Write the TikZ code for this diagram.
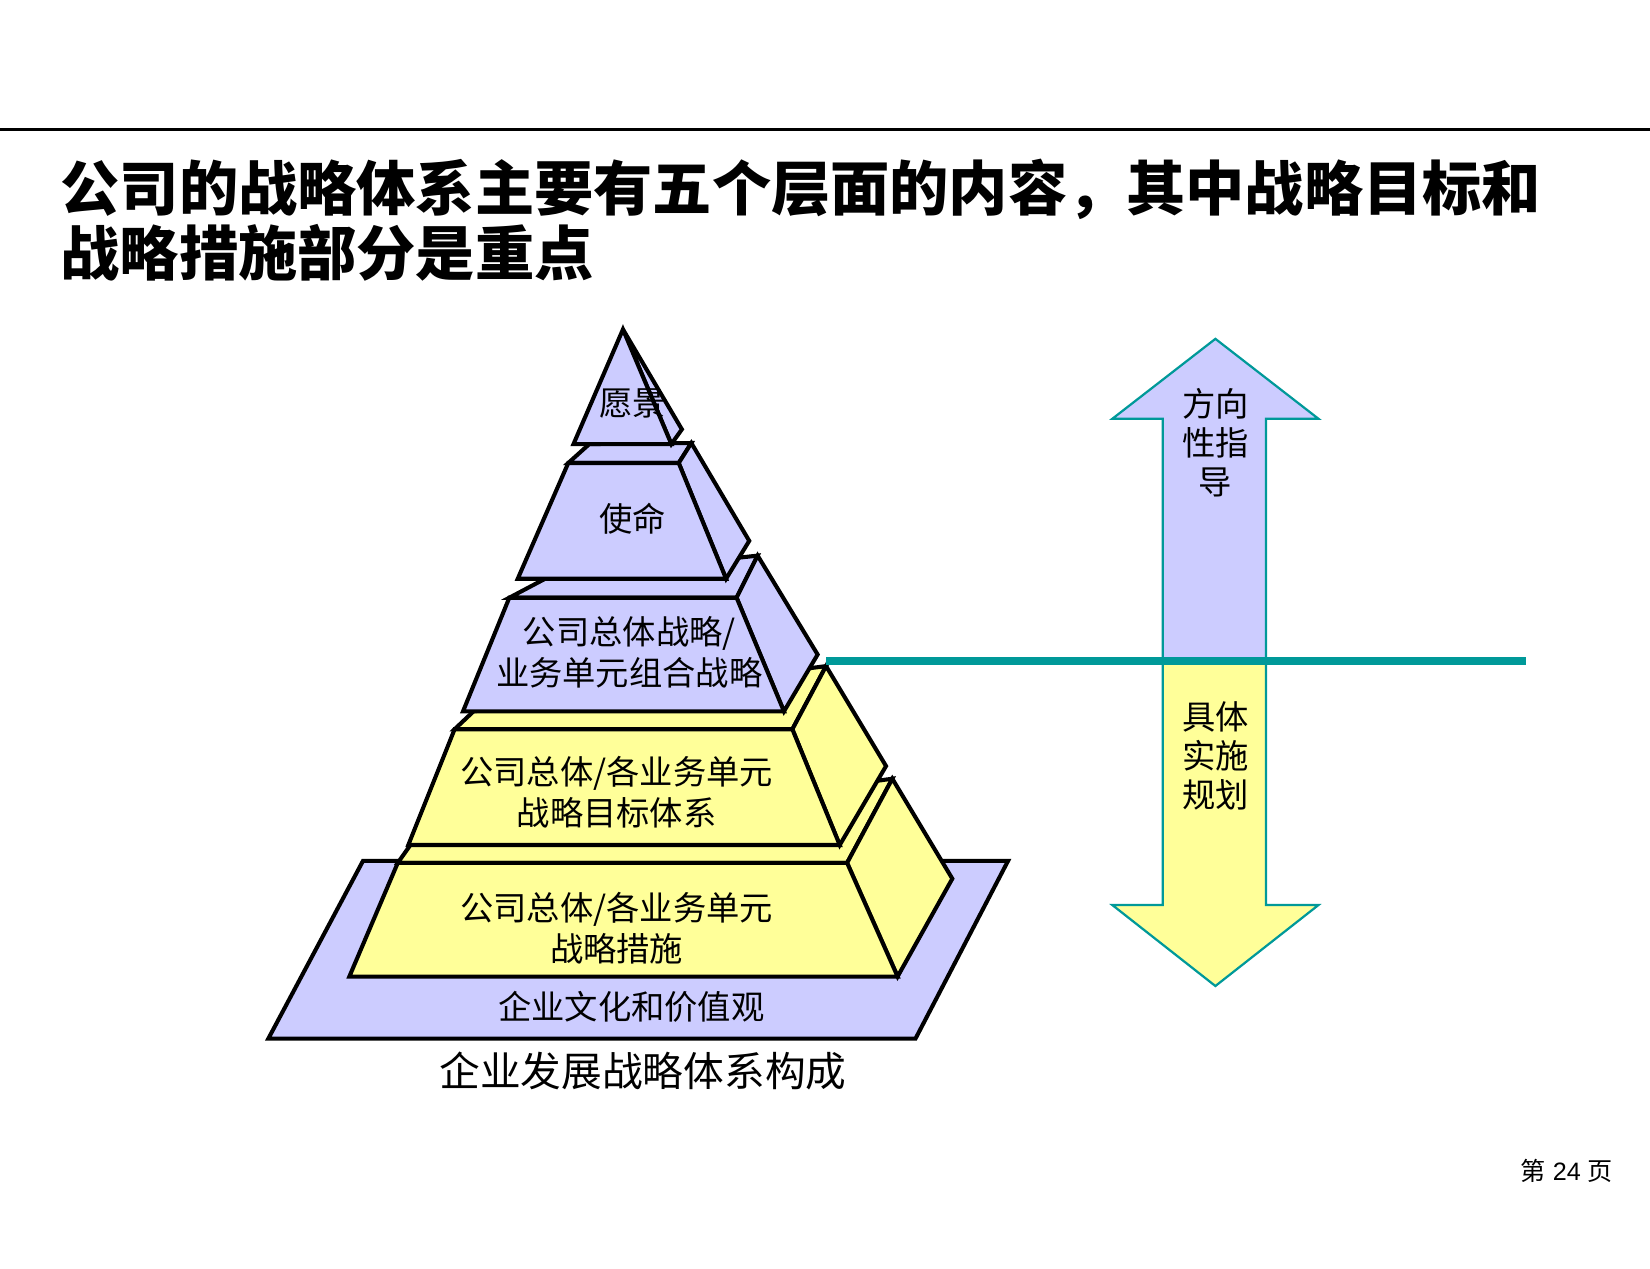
\documentclass[tikz,border=0pt]{standalone}
\usepackage{fontspec}
\setmainfont{Liberation Sans}
\newfontfamily\cjk{Noto Sans CJK SC}
\definecolor{lilac}{RGB}{204,204,255}
\definecolor{paleyel}{RGB}{255,255,153}
\definecolor{tealline}{RGB}{0,153,153}
\tikzset{
  blockface/.style={draw=black,line width=1.1pt,line join=miter},
  lvltext/.style={font=\cjk\fontsize{9}{11}\selectfont,align=center},
  arrtext/.style={font=\cjk\fontsize{9}{10.5}\selectfont,align=center}
}
\begin{document}
\begin{tikzpicture}[x=0.01cm,y=-0.01cm]
\useasboundingbox (0,0) rectangle (1568,1205);
\draw[line width=0.6pt] (0,123) -- (1568,123);
\node[anchor=west,inner sep=0pt,font=\cjk\bfseries\fontsize{16}{17.5}\selectfont,align=left] (title) at (57,209)
  {公司的战略体系主要有五个层面的内容，其中战略目标和\\战略措施部分是重点};
% base
\filldraw[blockface,fill=lilac] (255,987) -- (345,818) -- (958,818) -- (870,987) -- cycle;
\node[lvltext] (culture) at (600,957) {企业文化和价值观};
% level 5
\filldraw[blockface,fill=paleyel] (378,820) -- (390,803) -- (848,740) -- (805,820) -- cycle;
\filldraw[blockface,fill=paleyel] (805,820) -- (848,740) -- (905,835) -- (853,928) -- cycle;
\filldraw[blockface,fill=paleyel] (332,928) -- (853,928) -- (805,820) -- (378,820) -- cycle;
\node[lvltext] (measures) at (586,882) {公司总体/各业务单元\\战略措施};
% level 4
\filldraw[blockface,fill=paleyel] (432,693) -- (450,676) -- (785,633) -- (753,693) -- cycle;
\filldraw[blockface,fill=paleyel] (753,693) -- (785,633) -- (842,728) -- (798,803) -- cycle;
\filldraw[blockface,fill=paleyel] (388,803) -- (798,803) -- (753,693) -- (432,693) -- cycle;
\node[lvltext] (goals) at (586,753) {公司总体/各业务单元\\战略目标体系};
% level 3
\filldraw[blockface,fill=lilac] (484,568) -- (518,550) -- (720,528) -- (700,568) -- cycle;
\filldraw[blockface,fill=lilac] (700,568) -- (720,528) -- (777,622) -- (745,676) -- cycle;
\filldraw[blockface,fill=lilac] (440,676) -- (745,676) -- (700,568) -- (484,568) -- cycle;
\node[lvltext] (overall) at (598,620) {公司总体战略/\\业务单元组合战略};
% level 2
\filldraw[blockface,fill=lilac] (540,440) -- (560,422) -- (657,421) -- (645,440) -- cycle;
\filldraw[blockface,fill=lilac] (645,440) -- (657,421) -- (712,514) -- (690,550) -- cycle;
\filldraw[blockface,fill=lilac] (492,550) -- (690,550) -- (645,440) -- (540,440) -- cycle;
\node[lvltext] (mission) at (601,493) {使命};
% level 1
\filldraw[blockface,fill=lilac] (592,313) -- (648,408) -- (638,422) -- cycle;
\filldraw[blockface,fill=lilac] (545,422) -- (638,422) -- (592,313) -- cycle;
\node[lvltext] (vision) at (601,383) {愿景};
\node[font=\cjk\fontsize{11}{13}\selectfont] (caption) at (611,1018) {企业发展战略体系构成};
% double arrow
\filldraw[draw=tealline,fill=lilac,line width=0.6pt] (1105,628) -- (1105,398) -- (1057,398) -- (1155,322)
  -- (1253,398) -- (1203,398) -- (1203,628);
\filldraw[draw=tealline,fill=paleyel,line width=0.6pt] (1105,628) -- (1105,860) -- (1057,860) -- (1155,937)
  -- (1253,860) -- (1203,860) -- (1203,628);
\coordinate (splitL) at (785,628);
\coordinate (splitR) at (1450,628);
\draw[tealline,line width=2pt] (splitL) -- (splitR);
\node[arrtext] (guide) at (1155,421) {方向\\性指\\导};
\node[arrtext] (plan) at (1155,718) {具体\\实施\\规划};
\node[font=\fontsize{6.8}{8}\selectfont] (page) at (1489,1113) {{\cjk 第} 24 {\cjk 页}};
\end{tikzpicture}
\end{document}
